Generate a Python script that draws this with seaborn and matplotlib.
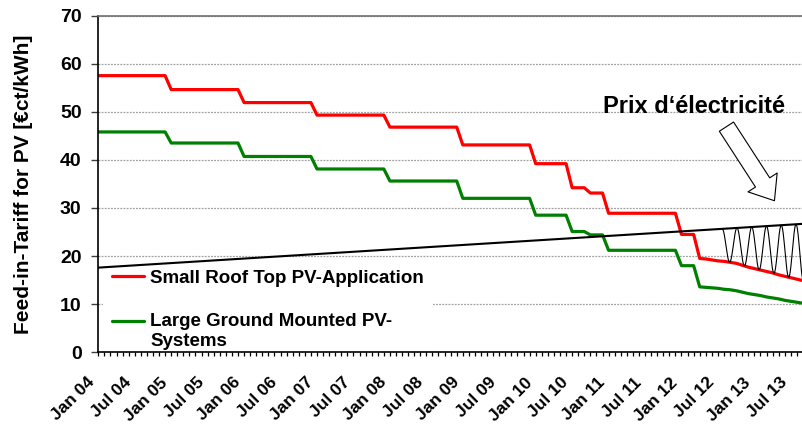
import numpy as np
import pandas as pd
import matplotlib
matplotlib.use("Agg")
import matplotlib.pyplot as plt
import seaborn as sns
from matplotlib.lines import Line2D
from matplotlib.legend_handler import HandlerLine2D
from matplotlib.transforms import ScaledTranslation

# ---------------- data (month index 0 = Jan 04) ----------------
small_roof_months = [0, 11, 12, 23, 24, 35, 36, 47, 48, 59, 60, 71, 72, 77, 78, 80, 81, 83,
                     84, 95, 96, 98, 99, 100, 101, 102, 103, 104, 105, 106, 107, 108, 109,
                     110, 111, 112, 113, 114, 115, 116]
small_roof_values = [57.5, 57.5, 54.6, 54.6, 51.9, 51.9, 49.3, 49.3, 46.8, 46.8, 43.1, 43.1,
                     39.2, 39.2, 34.2, 34.2, 33.1, 33.1, 28.9, 28.9, 24.5, 24.5,
                     19.5, 19.4, 19.2, 19.0, 18.9, 18.7, 18.5, 18.1, 17.7, 17.4, 17.1,
                     16.8, 16.5, 16.1, 15.8, 15.5, 15.2, 14.9]

large_ground_months = [0, 11, 12, 23, 24, 35, 36, 47, 48, 59, 60, 71, 72, 77, 78, 80, 81, 83,
                       84, 95, 96, 98, 99, 100, 101, 102, 103, 104, 105, 106, 107, 108, 109,
                       110, 111, 112, 113, 114, 115, 116]
large_ground_values = [45.8, 45.8, 43.5, 43.5, 40.7, 40.7, 38.1, 38.1, 35.6, 35.6, 32.0, 32.0,
                       28.5, 28.5, 25.1, 25.1, 24.4, 24.4, 21.2, 21.2, 18.0, 18.0,
                       13.6, 13.5, 13.4, 13.3, 13.1, 13.0, 12.8, 12.5, 12.2, 12.0, 11.8,
                       11.5, 11.3, 11.1, 10.8, 10.6, 10.4, 10.2]

price_months = [0, 116]
price_values = [17.6, 26.7]

tick_months = [0, 6, 12, 18, 24, 30, 36, 42, 48, 54, 60, 66, 72, 78, 84, 90, 96, 102, 108, 114]
tick_labels = ["Jan 04", "Jul 04", "Jan 05", "Jul 05", "Jan 06", "Jul 06", "Jan 07", "Jul 07",
               "Jan 08", "Jul 08", "Jan 09", "Jul 09", "Jan 10", "Jul 10", "Jan 11", "Jul 11",
               "Jan 12", "Jul 12", "Jan 13", "Jul 13"]

series_names = ["Small Roof Top PV-Application", "Large Ground Mounted PV-\nSystems"]
series_colors = ["#FF0000", "#008000"]

# ---------------- style ----------------
sns.set_theme(style="white")
plt.rcParams["font.family"] = ["Liberation Sans", "DejaVu Sans"]
plt.rcParams["font.weight"] = "bold"
for k in ["text.color", "axes.labelcolor", "xtick.color", "ytick.color"]:
    plt.rcParams[k] = "black"

fig = plt.figure(figsize=(8.03, 4.26), dpi=100)
ax = fig.add_axes([98.3 / 803, (426 - 352.3) / 426, (803 - 98.3) / 803, (352.3 - 15.5) / 426])

df = pd.concat([
    pd.DataFrame({"month": small_roof_months, "tariff": small_roof_values, "series": series_names[0]}),
    pd.DataFrame({"month": large_ground_months, "tariff": large_ground_values, "series": series_names[1]}),
])

ax.set_axisbelow(True)
ax.yaxis.grid(True, color="#a0a0a0", linestyle=(0, (1.5, 1.0)), linewidth=0.9)
ax.xaxis.grid(False)

sns.lineplot(data=df, x="month", y="tariff", hue="series", hue_order=series_names,
             palette=dict(zip(series_names, series_colors)), linewidth=2.3,
             estimator=None, sort=False, legend=False, ax=ax)
sns.lineplot(x=price_months, y=price_values, color="black", linewidth=1.5, ax=ax)

ax.set_xlim(0, 116)
ax.set_ylim(0, 70)

# decorative spring between price line and small-roof tariff
wave_start, wave_end, wave_period = 102.7, 116.0, 2.43
wm = np.linspace(wave_start, wave_end, 600)
top = np.interp(wm, price_months, price_values)
bot = np.interp(wm, small_roof_months, small_roof_values)
ax.plot(wm, bot + (top - bot) * (0.5 + 0.5 * np.cos(2 * np.pi * (wm - wave_start) / wave_period)),
        color="black", linewidth=0.8)

# hollow arrow + label
ax.annotate("", xy=(111.3, 31.5), xytext=(103.4, 46.9),
            arrowprops=dict(arrowstyle="simple,head_length=15.7,head_width=25,tail_width=12.2",
                            mutation_scale=1, fc="white", ec="black", lw=0.8,
                            shrinkA=0, shrinkB=0))
ax.text(83.1, 49.7, "Prix d\u2018électricité", fontsize=17, fontweight="bold",
        ha="left", va="baseline", color="black")

# axes / spines
for s in ["left", "bottom"]:
    ax.spines[s].set_color("black")
    ax.spines[s].set_linewidth(1.2)
ax.spines["top"].set_color("#707070")
ax.spines["top"].set_linewidth(1.2)
ax.spines["right"].set_visible(False)

ax.set_yticks([0, 10, 20, 30, 40, 50, 60, 70])
ax.tick_params(axis="y", which="major", direction="out", length=5, width=1, color="#404040",
               pad=7, labelsize=14, left=True)
for lab in ax.get_yticklabels():
    lab.set_fontweight("bold")

ax.set_xticks(tick_months, labels=tick_labels)
ax.set_xticks(np.arange(0, 117), minor=True)
ax.tick_params(axis="x", which="both", direction="out", length=3, width=0.9, color="black",
               bottom=True)
ax.tick_params(axis="x", which="major", pad=17, labelsize=12.5)
off = ScaledTranslation(-6 / 100, 0, fig.dpi_scale_trans)
for lab in ax.get_xticklabels():
    lab.set_rotation(45)
    lab.set_ha("right")
    lab.set_va("center")
    lab.set_rotation_mode("anchor")
    lab.set_fontweight("bold")
    lab.set_transform(lab.get_transform() + off)
ax.xaxis.set_zorder(2.2)  # keep month ticks above the legend box

ax.set_xlabel("")
ax.set_ylabel("Feed-in-Tariff for PV [€ct/kWh]", fontsize=15, fontweight="bold")
ax.yaxis.set_label_coords((33 - 98.3) / 704.7, 0.5)

# legend
class ShiftedLine(HandlerLine2D):
    def __init__(self, shift=0.0, **kw):
        super().__init__(**kw)
        self.shift = shift

    def create_artists(self, *args, **kwargs):
        arts = super().create_artists(*args, **kwargs)
        for a in arts:
            a.set_ydata(np.asarray(a.get_ydata()) + self.shift)
        return arts

handles = [Line2D([], [], color=c, linewidth=2.3) for c in series_colors]
leg = ax.legend(handles, series_names, loc="upper left",
                bbox_to_anchor=((103 - 98.3) / 704.7, (352.3 - 260.5) / 336.8),
                bbox_transform=ax.transAxes, frameon=True, fancybox=False,
                facecolor="white", edgecolor="none", framealpha=1,
                prop=dict(family=["Liberation Sans"], weight="bold", size=13.5),
                handlelength=1.7, handletextpad=0.32, labelspacing=1.4,
                borderpad=0.5, borderaxespad=0,
                handler_map={handles[1]: ShiftedLine(shift=7.4)})
leg.set_zorder(1.5)
for t in leg.get_texts():
    t.set_linespacing(1.22)

fig.savefig("out.png", dpi=100)
